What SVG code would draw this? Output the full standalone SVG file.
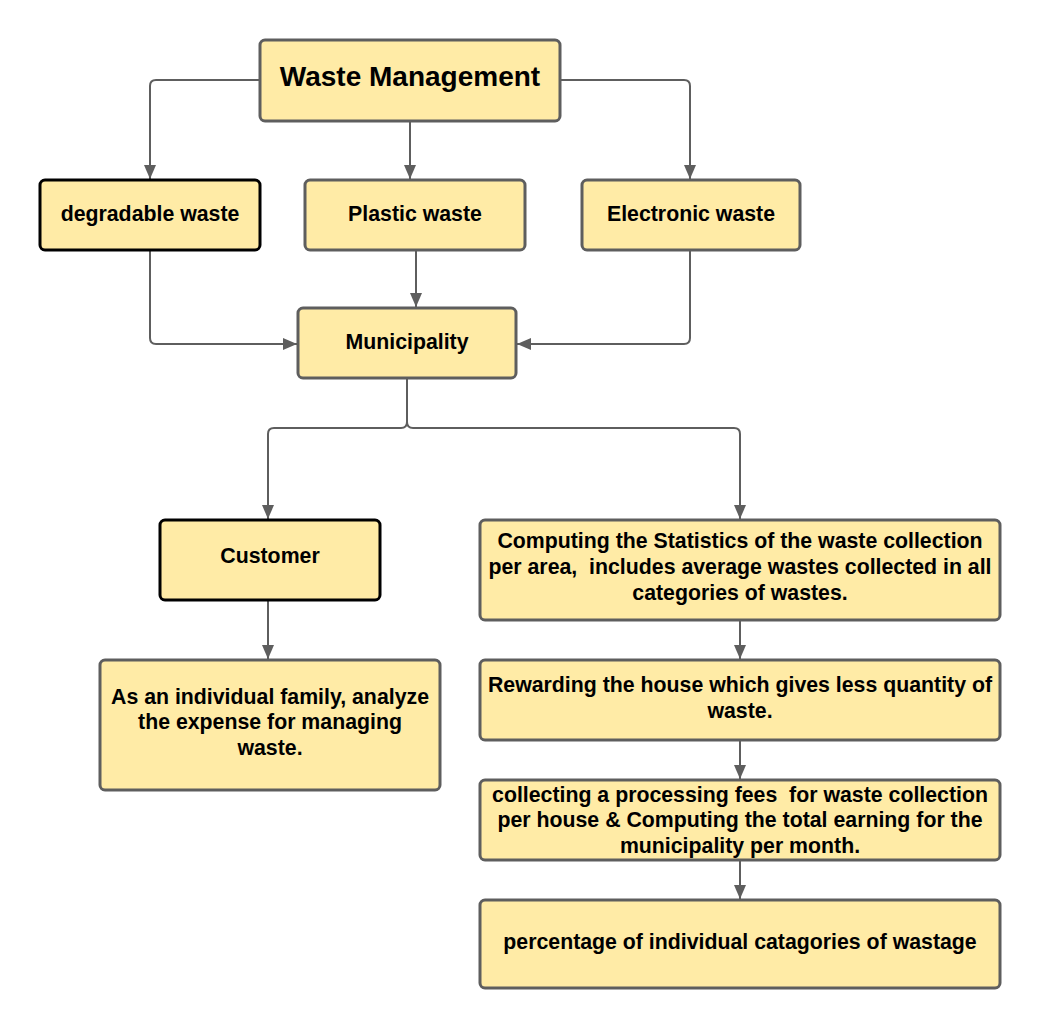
<svg xmlns="http://www.w3.org/2000/svg" width="1040" height="1028" viewBox="0 0 1040 1028">
<style>
.box{fill:#FFEBA6;stroke:#5E5E5E;stroke-width:3}
.dark{stroke:#000}
.t{font-family:"Liberation Sans",Arial,sans-serif;font-weight:bold;font-size:21.3px;fill:#000;text-anchor:middle}
.big{font-size:28px}
.c{fill:none;stroke:#5E5E5E;stroke-width:2;marker-end:url(#ah)}
</style>
<defs>
<marker id="ah" markerUnits="userSpaceOnUse" markerWidth="14" markerHeight="12" refX="14" refY="6" orient="auto">
<path d="M0,0 L14,6 L0,12 z" fill="#5E5E5E"/>
</marker>
</defs>
<rect width="1040" height="1028" fill="#fff"/>
<g id="connectors">
<path class="c" d="M260,80 H156 Q150,80 150,86 V179"/>
<path class="c" d="M410,121 V179"/>
<path class="c" d="M560,80 H684 Q690,80 690,86 V179"/>
<path class="c" d="M150,250 V338 Q150,344 156,344 H297"/>
<path class="c" d="M416,250 V307"/>
<path class="c" d="M690,250 V338 Q690,344 684,344 H517"/>
<path class="c" d="M407,378 V422 Q407,428 401,428 H274 Q268,428 268,434 V519"/>
<path class="c" d="M407,422 Q407,428 413,428 H734 Q740,428 740,434 V519"/>
<path class="c" d="M268,600 V659"/>
<path class="c" d="M740,620 V659"/>
<path class="c" d="M740,740 V779"/>
<path class="c" d="M740,860 V899"/>
</g>
<g id="waste-management">
<rect class="box" x="260" y="40" width="300" height="81" rx="5"/>
<text class="t big" x="410" y="86">Waste Management</text>
</g>
<g id="degradable">
<rect class="box dark" x="40" y="180" width="220" height="70" rx="5"/>
<text class="t" x="150" y="221">degradable waste</text>
</g>
<g id="plastic">
<rect class="box" x="305" y="180" width="220" height="70" rx="5"/>
<text class="t" x="415" y="221">Plastic waste</text>
</g>
<g id="electronic">
<rect class="box" x="582" y="180" width="218" height="70" rx="5"/>
<text class="t" x="691" y="221">Electronic waste</text>
</g>
<g id="municipality">
<rect class="box" x="298" y="308" width="218" height="70" rx="5"/>
<text class="t" x="407" y="349">Municipality</text>
</g>
<g id="customer">
<rect class="box dark" x="160" y="520" width="220" height="80" rx="5"/>
<text class="t" x="270" y="563">Customer</text>
</g>
<g id="family">
<rect class="box" x="100" y="660" width="340" height="130" rx="5"/>
<text class="t" x="270" y="704">As an individual family, analyze</text>
<text class="t" x="270" y="729">the expense for managing</text>
<text class="t" x="270" y="755">waste.</text>
</g>
<g id="statistics">
<rect class="box" x="480" y="520" width="520" height="100" rx="5"/>
<text class="t" x="740" y="548">Computing the Statistics of the waste collection</text>
<text class="t" x="740" y="574" xml:space="preserve">per area,  includes average wastes collected in all</text>
<text class="t" x="740" y="600">categories of wastes.</text>
</g>
<g id="rewarding">
<rect class="box" x="480" y="660" width="520" height="80" rx="5"/>
<text class="t" x="740" y="692">Rewarding the house which gives less quantity of</text>
<text class="t" x="740" y="718">waste.</text>
</g>
<g id="collecting">
<rect class="box" x="480" y="780" width="520" height="80" rx="5"/>
<text class="t" x="740" y="802" xml:space="preserve">collecting a processing fees  for waste collection</text>
<text class="t" x="740" y="827">per house &amp; Computing the total earning for the</text>
<text class="t" x="740" y="853">municipality per month.</text>
</g>
<g id="percentage">
<rect class="box" x="480" y="900" width="520" height="88" rx="5"/>
<text class="t" x="740" y="949">percentage of individual catagories of wastage</text>
</g>
</svg>
